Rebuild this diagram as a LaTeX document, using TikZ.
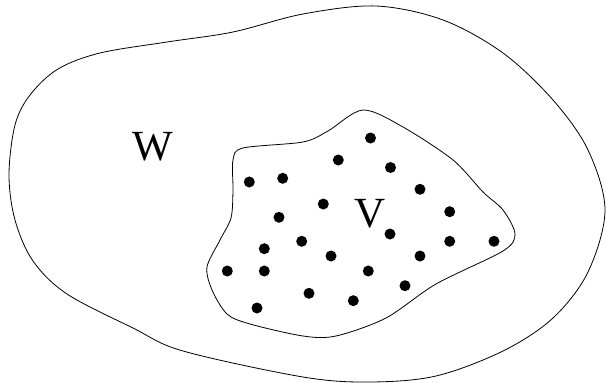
\documentclass[tikz,border=0pt]{standalone}
\usepackage{fontspec}
\setmainfont{Liberation Serif}
\begin{document}
\begin{tikzpicture}[x=1pt,y=-1pt,
  curve/.style={line width=0.8pt, black},
  dot/.style={circle, fill=black, inner sep=0pt, minimum size=11pt},
  lbl/.style={font=\fontsize{43}{43}\selectfont, inner sep=0pt, anchor=base}]
\useasboundingbox (0,0) rectangle (606,383);
% outer region W
\draw[curve] plot[smooth cycle, tension=0.55] coordinates {
  (376,6) (443,20) (503,53) (553,100) (588,150) (605,210)
  (588,272) (553,318) (503,351) (436,376) (370,382) (303,377)
  (183,351) (133,328) (67,294) (33,261) (15,220) (9,175) (15,125)
  (30,95) (58,69) (100,53) (167,42) (233,32) (303,14)};
% inner region V
\draw[curve] plot[smooth cycle, tension=0.5] coordinates {
  (363,110) (403,127) (453,160) (483,192) (503,210) (515,234) (503,251)
  (436,284) (386,318) (336,336) (303,336) (250,324) (227,314) (212,290)
  (207,267) (220,240) (231,218) (233,191) (233,160) (243,148) (303,142) (328,131)};
% labels
\node[lbl] (W) at (153,160) {W};
\node[lbl] (V) at (370,227) {V};
% points
\foreach \x/\y [count=\i] in {370.5/138,338.3/160,390.5/167.5,249.3/182,282.7/178.3,
  420/189.3,323.3/204,279/217.3,449.7/211.7,390/234,264.3/248.7,
  301.7/241.3,449.7/241.3,494/241.3,331/256,420/256,227.3/271,
  264.3/271,368.3/271,405/285.7,309/293.3,353.3/300.7,257/308}
  \node[dot] (p\i) at (\x,\y) {};
\end{tikzpicture}
\end{document}
